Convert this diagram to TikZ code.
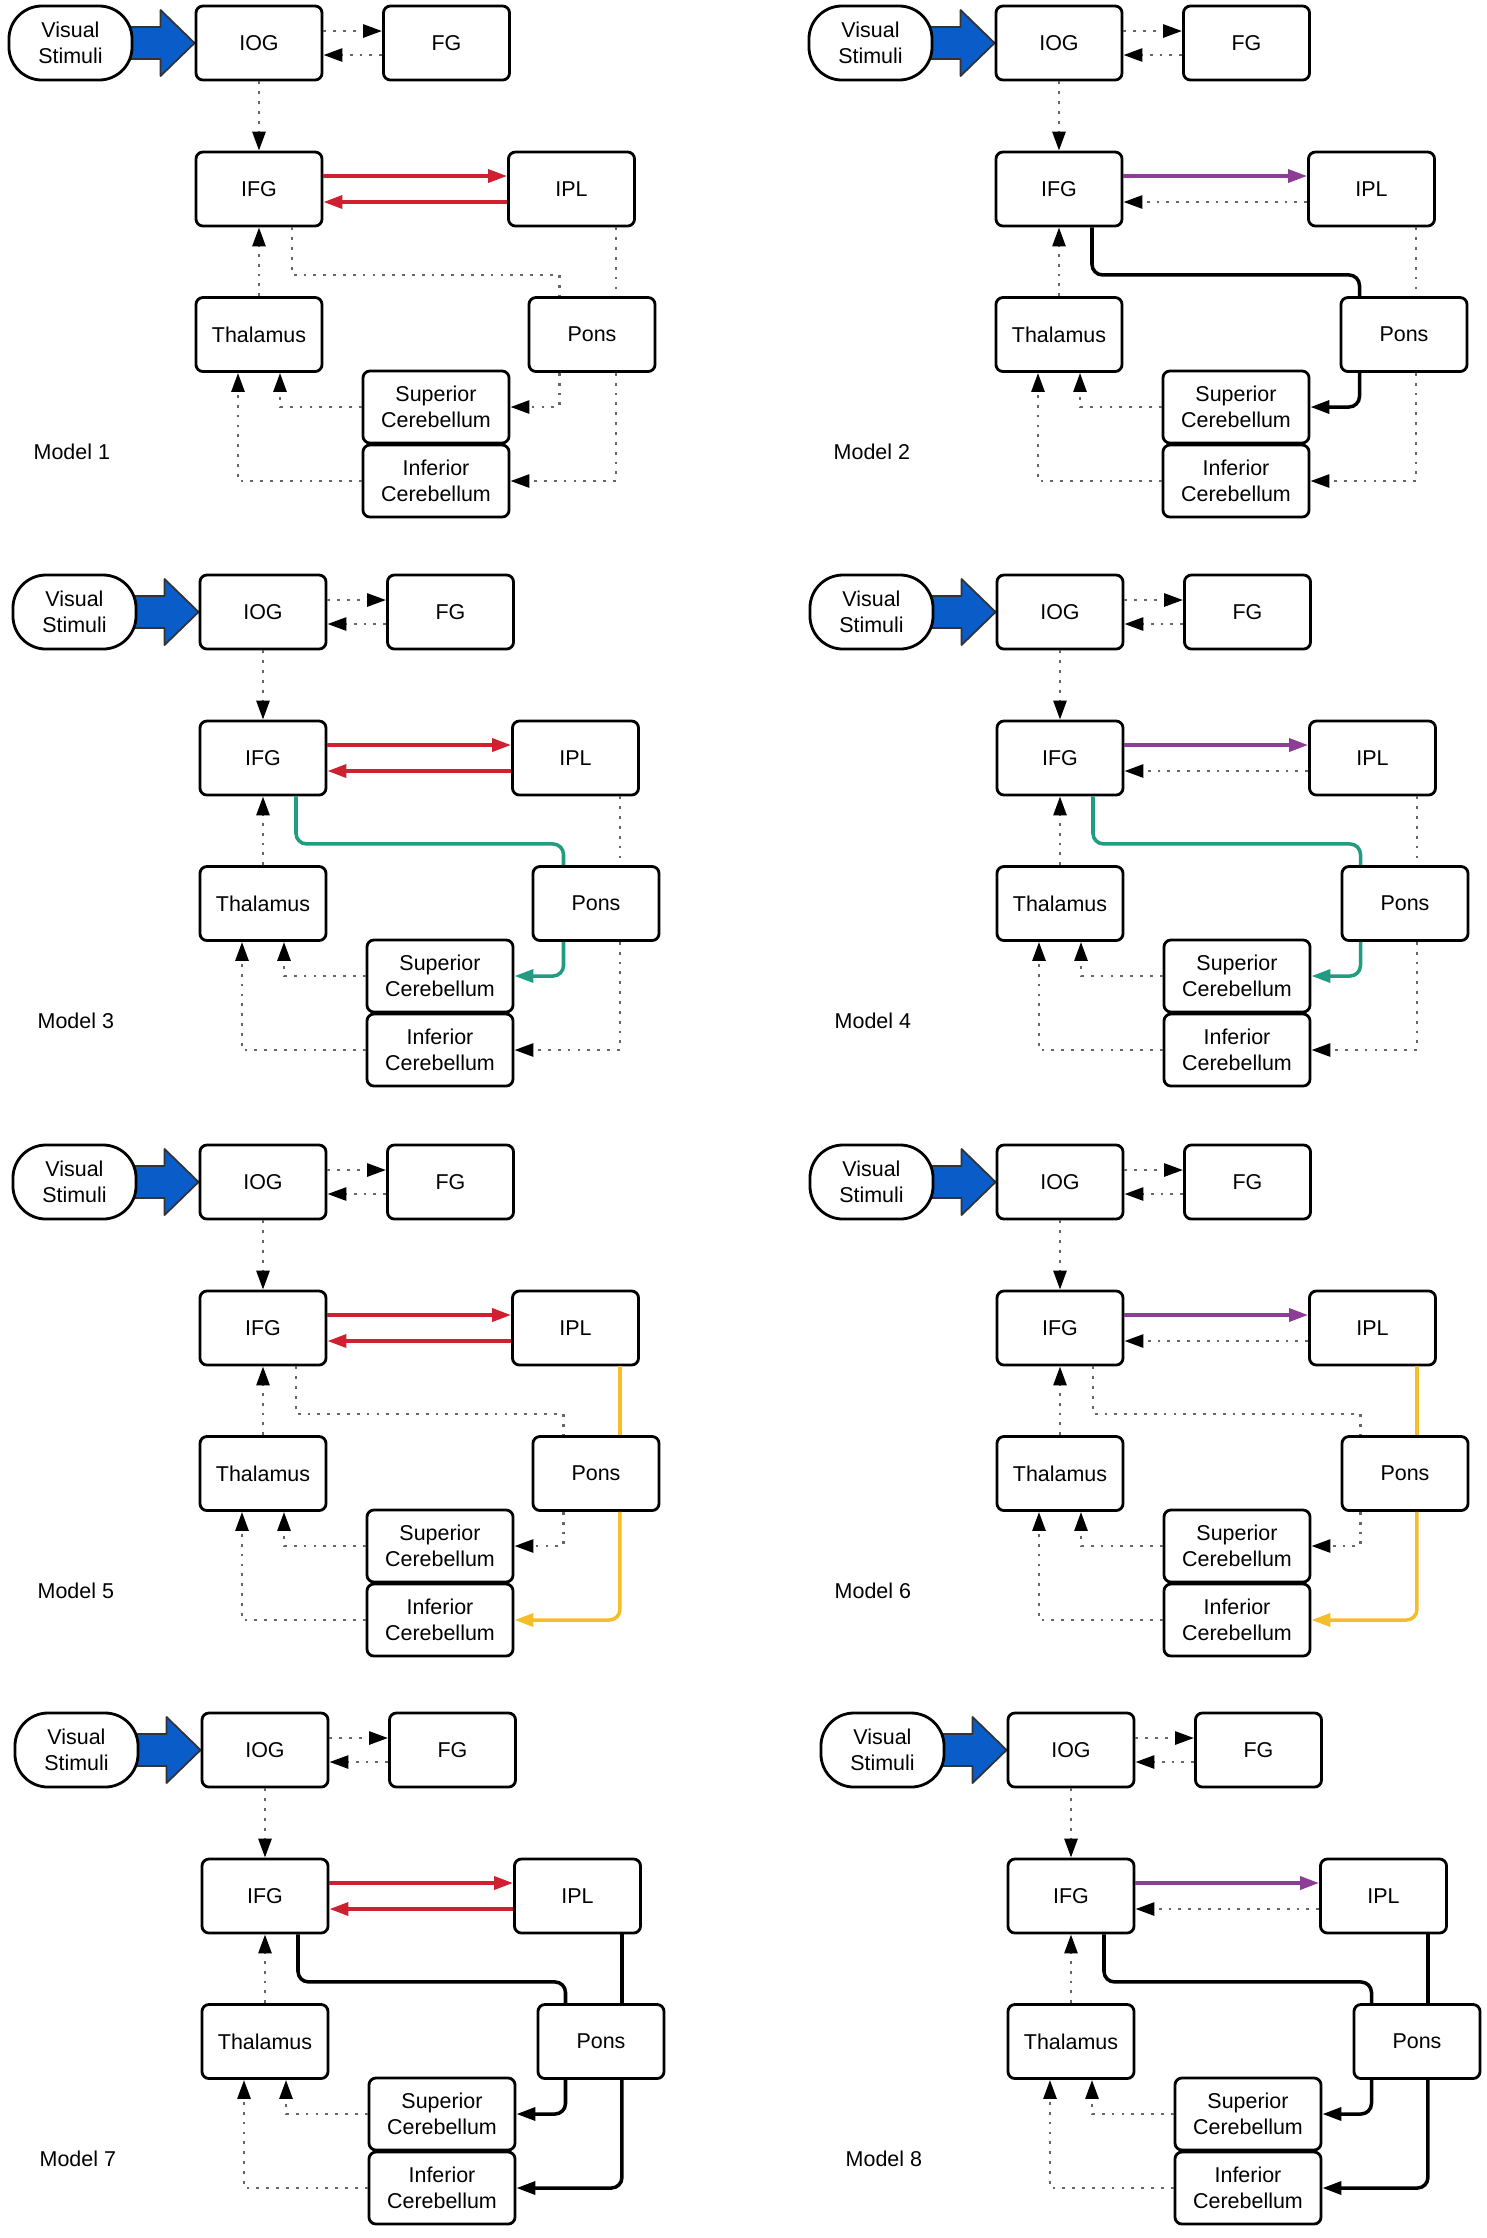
\documentclass[tikz,border=0pt]{standalone}
\usepackage{fontspec}
\setmainfont{Liberation Sans}
\usetikzlibrary{arrows.meta,calc,backgrounds}

\definecolor{fwdred}{RGB}{206,32,48}
\definecolor{fwdpurple}{RGB}{140,62,150}
\definecolor{ponsteal}{RGB}{32,156,128}
\definecolor{ponsyellow}{RGB}{244,190,40}
\definecolor{stimblue}{RGB}{10,92,200}

\tikzset{
  box/.style={draw, line width=0.8pt, rounded corners=2pt, fill=white, inner sep=0pt, align=center,
    minimum width=1.26cm, minimum height=0.74cm, font=\fontsize{6.1}{7.3}\selectfont},
  cbox/.style={box, minimum width=1.46cm, minimum height=0.72cm},
  pill/.style={box, minimum width=1.23cm, rounded corners=0.33cm},
  dots/.style={draw=black!60, line width=0.8pt, dash pattern=on 0.8pt off 2pt,
    >={Triangle[length=0.19cm,width=0.13cm,color=black]}},
  solidline/.style={line width=1pt, rounded corners=3pt, >={Triangle[length=0.19cm,width=0.13cm]}},
  redline/.style={solidline, draw=fwdred},
  purpleline/.style={solidline, draw=fwdpurple},
  tealline/.style={solidline, draw=ponsteal},
  yellowline/.style={solidline, draw=ponsyellow},
  blackline/.style={solidline, draw=black},
  stimarrow/.style={fill=stimblue, draw=black!80, line width=0.5pt, line join=round}
}

\begin{document}
\begin{tikzpicture}[x=0.01cm, y=-0.01cm]
	\useasboundingbox (0,0) rectangle (1487,2238);
	\begin{scope}[on background layer]
		\fill[white] (0,0) rectangle (1487,2238);
	\end{scope}

	% one panel per model: number / shift / pons x / IFG-IPL, IPL-IFG, via upper and lower pons path
	\foreach \i/\dx/\dy/\px/\fwd/\bwd/\upper/\lower in {
			1/0/0/592/redline/redline/dots/dots,
			2/800/0/604/purpleline/dots/blackline/dots,
			3/4/569/592/redline/redline/tealline/dots,
			4/801/569/604/purpleline/dots/tealline/dots,
			5/4/1139/592/redline/redline/dots/yellowline,
			6/801/1139/604/purpleline/dots/dots/yellowline,
			7/6/1707/595/redline/redline/blackline/blackline,
			8/812/1707/605/purpleline/dots/blackline/blackline}{
		\begin{scope}[shift={(\dx,\dy)}]
			\node[pill] (vs\i) at (70.5,43) {Visual\\Stimuli};
			\node[box] (iog\i) at (259,43) {IOG};
			\node[box] (fg\i) at (446.5,43) {FG};
			\node[box] (ifg\i) at (259,189) {IFG};
			\node[box] (ipl\i) at (571.5,189) {IPL};
			\node[box] (thal\i) at (259,334.5) {Thalamus};
			\node[box] (pons\i) at (\px,334.5) {Pons};
			\node[cbox] (supc\i) at (436,407) {Superior\\Cerebellum};
			\node[cbox] (infc\i) at (436,481) {Inferior\\Cerebellum};
			\node[anchor=west, inner sep=0pt, font=\fontsize{6.1}{7.3}\selectfont] (label\i) at (33,452) {Model \i};

			\coordinate (bend\i) at ($(ipl\i.south)+(-12,47.5)$);
			\coordinate (drop\i) at ($(ipl\i.south east)+(-20,0)$);

			\begin{scope}[on background layer]
				\draw[stimarrow] ($(vs\i.east)+(-6,-16)$) -- ($(iog\i.west)+(-34,-16)$)
					-- ($(iog\i.west)+(-34,-33)$) -- (iog\i.west) -- ($(iog\i.west)+(-34,33)$)
					-- ($(iog\i.west)+(-34,16)$) -- ($(vs\i.east)+(-6,16)$);
			\end{scope}

			\draw[dots,->] ($(iog\i.east)+(0,-12)$) -- ($(fg\i.west)+(0,-12)$);
			\draw[dots,->] ($(fg\i.west)+(0,12)$) -- ($(iog\i.east)+(0,12)$);
			\draw[dots,->] (iog\i.south) -- (ifg\i.north);
			\draw[dots,->] (thal\i.north) -- (ifg\i.south);
			\draw[dots,->] (supc\i.west) -| ($(thal\i.south)+(21,0)$);
			\draw[dots,->] (infc\i.west) -| ($(thal\i.south)+(-21,0)$);

			\draw[\fwd,->] ($(ifg\i.east)+(0,-13)$) -- ($(ipl\i.west)+(0,-13)$);
			\draw[\bwd,->] ($(ipl\i.west)+(0,13)$) -- ($(ifg\i.east)+(0,13)$);

			\draw[\upper] ($(ifg\i.south)+(33,0)$) |- (bend\i) -- (bend\i |- pons\i.north);
			\draw[\upper,->] (bend\i |- pons\i.south) |- (supc\i.east);
			\draw[\lower] (drop\i) -- (drop\i |- pons\i.north);
			\draw[\lower,->] (drop\i |- pons\i.south) |- (infc\i.east);
		\end{scope}
	}
\end{tikzpicture}
\end{document}
